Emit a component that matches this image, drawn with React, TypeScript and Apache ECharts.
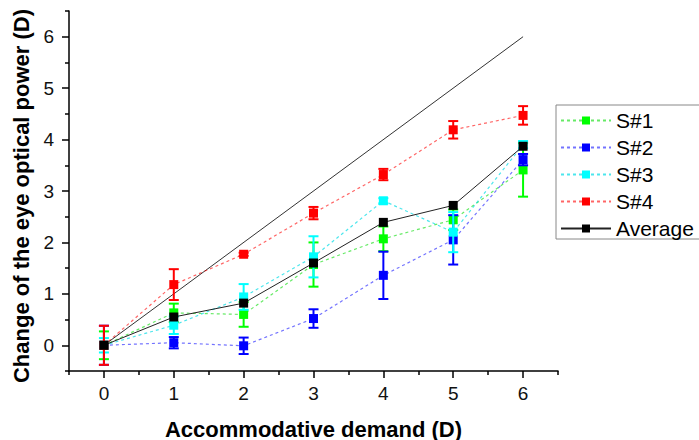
import React, { useEffect, useRef } from "react";
import * as echarts from "echarts";

const xValues = [0, 1, 2, 3, 4, 5, 6];
const s1 = [0, 0.63, 0.6, 1.57, 2.07, 2.44, 3.41];
const s1Err = [0.27, 0.18, 0.24, 0.43, 0.24, 0.2, 0.52];
const s2 = [0, 0.05, -0.01, 0.52, 1.36, 2.05, 3.61];
const s2Err = [0.38, 0.11, 0.16, 0.18, 0.46, 0.48, 0.11];
const s3 = [0, 0.39, 0.94, 1.72, 2.81, 2.2, 3.9];
const s3Err = [0.14, 0.17, 0.25, 0.4, 0.05, 0.39, 0.07];
const s4 = [0, 1.18, 1.77, 2.57, 3.32, 4.19, 4.47];
const s4Err = [0.38, 0.3, 0.03, 0.12, 0.11, 0.17, 0.18];
const average = [0, 0.55, 0.82, 1.6, 2.39, 2.72, 3.87];
const identityLine = [[0, 0], [6, 6]];
const majorTicks = [0, 1, 2, 3, 4, 5, 6];
const minorTicks = [-0.5, 0.5, 1.5, 2.5, 3.5, 4.5, 5.5, 6.5];

const FONT = "Liberation Sans, Arial, sans-serif";

export default function App() {
  const ref = useRef<HTMLDivElement>(null);
  useEffect(() => {
    if (!ref.current) return;
    document.body.style.margin = "0";
    const chart = echarts.init(ref.current, null, { renderer: "svg" });

    const subjects = [
      { name: "S#1", vals: s1, err: s1Err, color: "#00ff00", light: "rgba(0,220,0,0.6)" },
      { name: "S#2", vals: s2, err: s2Err, color: "#0000ff", light: "rgba(0,0,255,0.55)" },
      { name: "S#3", vals: s3, err: s3Err, color: "#00ffff", light: "rgba(0,220,230,0.7)" },
      { name: "S#4", vals: s4, err: s4Err, color: "#ff0000", light: "rgba(255,0,0,0.6)" },
    ];

    const series: any[] = [
      {
        type: "line",
        name: "ref",
        data: identityLine,
        symbol: "none",
        lineStyle: { color: "#333", width: 1 },
        z: 1,
        silent: true,
      },
    ];

    subjects.forEach((s, i) => {
      series.push({
        type: "custom",
        name: s.name + "err",
        data: xValues.map((x, k) => [x, s.vals[k] - s.err[k], s.vals[k] + s.err[k]]),
        z: 2 + i * 2,
        renderItem: (params: any, api: any) => {
          const x = api.value(0);
          const lo = api.coord([x, api.value(1)]);
          const hi = api.coord([x, api.value(2)]);
          const cap = 5;
          const style = { stroke: s.color, lineWidth: 2 };
          return {
            type: "group",
            children: [
              { type: "line", shape: { x1: lo[0], y1: lo[1], x2: hi[0], y2: hi[1] }, style },
              { type: "line", shape: { x1: lo[0] - cap, y1: lo[1], x2: lo[0] + cap, y2: lo[1] }, style },
              { type: "line", shape: { x1: hi[0] - cap, y1: hi[1], x2: hi[0] + cap, y2: hi[1] }, style },
            ],
          };
        },
        encode: { x: 0, y: [1, 2] },
        silent: true,
      });
      series.push({
        type: "line",
        name: s.name,
        data: xValues.map((x, k) => [x, s.vals[k]]),
        symbol: "rect",
        symbolSize: 9,
        itemStyle: { color: s.color },
        lineStyle: { color: s.light, width: 1.2, type: [3, 3] },
        z: 3 + i * 2,
      });
    });

    series.push({
      type: "line",
      name: "Average",
      data: xValues.map((x, k) => [x, average[k]]),
      symbol: "rect",
      symbolSize: 9,
      itemStyle: { color: "#000" },
      lineStyle: { color: "#222", width: 1 },
      z: 20,
    });

    const axisCommon = {
      min: -0.5,
      max: 6.5,
      interval: 0.5,
      splitLine: { show: false },
    };

    chart.setOption({
      animation: false,
      backgroundColor: "#fff",
      grid: { left: 69, right: 141, top: 11, bottom: 69, outerBoundsMode: "none", containLabel: false },
      legend: {
        data: ["S#1", "S#2", "S#3", "S#4", "Average"],
        orient: "vertical",
        left: 556,
        top: 105,
        itemWidth: 50,
        itemHeight: 10,
        itemGap: 6,
        padding: [5, 60, 0, 4],
        backgroundColor: "#fff",
        borderColor: "#888",
        borderWidth: 1,
        textStyle: { fontFamily: FONT, fontSize: 21, color: "#000" },
      },
      xAxis: [
        {
          type: "value",
          ...axisCommon,
          name: "Accommodative demand (D)",
          nameLocation: "middle",
          nameGap: 47,
          nameTextStyle: { fontFamily: FONT, fontSize: 22, fontWeight: "bold", color: "#000" },
          axisLine: { onZero: false, lineStyle: { color: "#000", width: 1.5 } },
          axisTick: { customValues: majorTicks, length: 7, lineStyle: { color: "#000", width: 1.5 } },
          axisLabel: {
            customValues: majorTicks,
            margin: 13,
            fontFamily: FONT,
            fontSize: 19,
            color: "#111",
          },
        },
        {
          type: "value",
          ...axisCommon,
          position: "bottom",
          axisLine: { show: false, onZero: false },
          axisTick: { customValues: minorTicks, length: 4, lineStyle: { color: "#000", width: 1.5 } },
          axisLabel: { show: false },
        },
      ],
      yAxis: [
        {
          type: "value",
          ...axisCommon,
          name: "Change of the eye optical power (D)",
          nameLocation: "middle",
          nameGap: 30,
          nameTextStyle: {
            fontFamily: FONT,
            fontSize: 22,
            fontWeight: "bold",
            color: "#000",
            padding: [0, 10, 0, 0],
          },
          axisLine: { show: true, onZero: false, lineStyle: { color: "#000", width: 1.5 } },
          axisTick: { show: true, customValues: majorTicks, length: 7, lineStyle: { color: "#000", width: 1.5 } },
          axisLabel: {
            customValues: majorTicks,
            margin: 15,
            fontFamily: FONT,
            fontSize: 19,
            color: "#111",
          },
        },
        {
          type: "value",
          ...axisCommon,
          position: "left",
          axisLine: { show: false, onZero: false },
          axisTick: { show: true, customValues: minorTicks, length: 4, lineStyle: { color: "#000", width: 1.5 } },
          axisLabel: { show: false },
        },
      ],
      series,
    });
    return () => chart.dispose();
  }, []);
  return <div ref={ref} style={{ width: 699, height: 440 }} />;
}
